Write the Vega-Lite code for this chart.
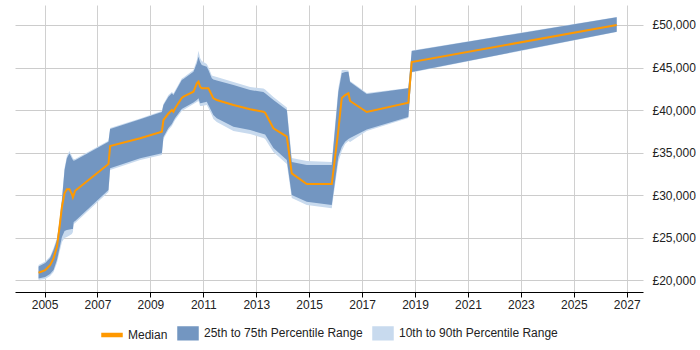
{
  "$schema": "https://vega.github.io/schema/vega-lite/v6.json",
  "width": 628,
  "height": 287,
  "padding": {"left": 15, "top": 5, "right": 0, "bottom": 0},
  "autosize": {"type": "pad"},
  "config": {
    "view": {"stroke": null},
    "font": "Liberation Sans",
    "axis": {"labelFont": "Liberation Sans", "labelFontSize": 12, "labelColor": "#222"},
    "axisY": {
      "orient": "right",
      "values": [19000, 20000, 21000, 22000, 23000, 24000, 25000, 26000, 27000, 28000, 29000, 30000, 31000, 32000, 33000, 34000, 35000, 36000, 37000, 38000, 39000, 40000, 41000, 42000, 43000, 44000, 45000, 46000, 47000, 48000, 49000, 50000, 51000, 52000],
      "labelExpr": "datum.value % 5000 === 0 ? '£' + format(datum.value, ',') : ''",
      "labelOverlap": false,
      "grid": true,
      "gridColor": {"condition": {"test": "datum.value % 5000 === 0", "value": "#cccccc"}, "value": "#e8e8e8"},
      "ticks": false,
      "domain": false,
      "labelPadding": 9,
      "title": null
    },
    "legend": {"labelFont": "Liberation Sans", "labelFontSize": 12, "labelColor": "#222", "layout": {"bottom": {"anchor": "middle"}}}
  },
  "data": {
    "values": [
      {"date": "2004-10-10", "p10": 20000, "p25": 20200, "median": 20859, "p75": 21588, "p90": 21765},
      {"date": "2005-01-10", "p10": 20118, "p25": 20353, "median": 21177, "p75": 22000, "p90": 22177},
      {"date": "2005-03-18", "p10": 20471, "p25": 20706, "median": 21765, "p75": 22588, "p90": 22765},
      {"date": "2005-05-05", "p10": 20941, "p25": 21177, "median": 22553, "p75": 23530, "p90": 23765},
      {"date": "2005-06-21", "p10": 22000, "p25": 22353, "median": 23918, "p75": 24706, "p90": 24941},
      {"date": "2005-07-27", "p10": 23294, "p25": 23765, "median": 26271, "p75": 26824, "p90": 27059},
      {"date": "2005-08-29", "p10": 24471, "p25": 25059, "median": 28624, "p75": 29412, "p90": 29647},
      {"date": "2005-10-04", "p10": 24941, "p25": 25765, "median": 30200, "p75": 32941, "p90": 33177},
      {"date": "2005-11-05", "p10": 25059, "p25": 25882, "median": 30671, "p75": 34318, "p90": 34588},
      {"date": "2005-12-11", "p10": 25235, "p25": 25941, "median": 30671, "p75": 34906, "p90": 35177},
      {"date": "2006-01-13", "p10": 25412, "p25": 26000, "median": 30118, "p75": 34318, "p90": 34588},
      {"date": "2006-01-27", "p10": 25647, "p25": 26000, "median": 29730, "p75": 34118, "p90": 34353},
      {"date": "2006-02-07", "p10": 26588, "p25": 26824, "median": 30000, "p75": 34035, "p90": 34235},
      {"date": "2006-02-27", "p10": 26706, "p25": 26941, "median": 30506, "p75": 34082, "p90": 34235},
      {"date": "2007-06-02", "p10": 30353, "p25": 30588, "median": 33647, "p75": 36271, "p90": 36388},
      {"date": "2007-06-25", "p10": 32941, "p25": 33141, "median": 35765, "p75": 37765, "p90": 37882},
      {"date": "2008-08-13", "p10": 34118, "p25": 34318, "median": 36671, "p75": 38906, "p90": 39000},
      {"date": "2009-06-08", "p10": 34706, "p25": 34906, "median": 37447, "p75": 39765, "p90": 39882},
      {"date": "2009-06-30", "p10": 36588, "p25": 36824, "median": 38824, "p75": 40588, "p90": 40706},
      {"date": "2009-09-07", "p10": 37647, "p25": 37882, "median": 39588, "p75": 41565, "p90": 41765},
      {"date": "2009-10-24", "p10": 38118, "p25": 38353, "median": 40000, "p75": 41965, "p90": 42118},
      {"date": "2009-11-15", "p10": 38471, "p25": 38706, "median": 39800, "p75": 41765, "p90": 41941},
      {"date": "2009-12-08", "p10": 38824, "p25": 39059, "median": 40200, "p75": 42118, "p90": 42294},
      {"date": "2010-03-10", "p10": 39882, "p25": 40118, "median": 41412, "p75": 43530, "p90": 43706},
      {"date": "2010-04-02", "p10": 40000, "p25": 40235, "median": 41565, "p75": 43647, "p90": 43824},
      {"date": "2010-08-18", "p10": 40706, "p25": 40882, "median": 42153, "p75": 44506, "p90": 44706},
      {"date": "2010-10-04", "p10": 40941, "p25": 41177, "median": 43141, "p75": 45494, "p90": 45882},
      {"date": "2010-10-26", "p10": 41059, "p25": 41376, "median": 43330, "p75": 46271, "p90": 46977},
      {"date": "2010-11-18", "p10": 40471, "p25": 40788, "median": 42741, "p75": 45647, "p90": 46118},
      {"date": "2010-12-11", "p10": 40471, "p25": 40824, "median": 42553, "p75": 45294, "p90": 45765},
      {"date": "2011-02-18", "p10": 40588, "p25": 40976, "median": 42553, "p75": 45094, "p90": 45412},
      {"date": "2011-03-12", "p10": 40235, "p25": 40588, "median": 42553, "p75": 44706, "p90": 45059},
      {"date": "2011-04-28", "p10": 39412, "p25": 39800, "median": 41765, "p75": 43730, "p90": 44059},
      {"date": "2011-05-20", "p10": 38941, "p25": 39412, "median": 41377, "p75": 43588, "p90": 44000},
      {"date": "2011-07-06", "p10": 38588, "p25": 39024, "median": 41177, "p75": 43471, "p90": 43882},
      {"date": "2012-02-21", "p10": 37530, "p25": 38035, "median": 40588, "p75": 42941, "p90": 43294},
      {"date": "2012-10-08", "p10": 37177, "p25": 37647, "median": 40083, "p75": 42353, "p90": 42706},
      {"date": "2013-04-09", "p10": 36706, "p25": 37177, "median": 39800, "p75": 42118, "p90": 42530},
      {"date": "2013-05-03", "p10": 36588, "p25": 37118, "median": 39683, "p75": 41965, "p90": 42412},
      {"date": "2013-08-26", "p10": 35059, "p25": 35530, "median": 37847, "p75": 41177, "p90": 41530},
      {"date": "2014-02-27", "p10": 33647, "p25": 34118, "median": 36883, "p75": 40000, "p90": 40294},
      {"date": "2014-05-06", "p10": 29647, "p25": 30000, "median": 32549, "p75": 33882, "p90": 34353},
      {"date": "2014-11-29", "p10": 28824, "p25": 29212, "median": 31294, "p75": 33530, "p90": 34000},
      {"date": "2015-11-09", "p10": 28435, "p25": 28824, "median": 31294, "p75": 33530, "p90": 33882},
      {"date": "2016-02-08", "p10": 33882, "p25": 34506, "median": 37612, "p75": 42118, "p90": 42600},
      {"date": "2016-03-26", "p10": 35177, "p25": 35647, "median": 41412, "p75": 44318, "p90": 44706},
      {"date": "2016-05-11", "p10": 36000, "p25": 36271, "median": 41765, "p75": 44471, "p90": 44706},
      {"date": "2016-06-26", "p10": 36353, "p25": 36588, "median": 41965, "p75": 44506, "p90": 44647},
      {"date": "2016-07-19", "p10": 36235, "p25": 36706, "median": 41059, "p75": 43294, "p90": 43412},
      {"date": "2017-03-06", "p10": 37530, "p25": 37706, "median": 39765, "p75": 41882, "p90": 42000},
      {"date": "2018-10-01", "p10": 39059, "p25": 39177, "median": 40859, "p75": 42553, "p90": 42588},
      {"date": "2018-11-17", "p10": 44412, "p25": 44471, "median": 45647, "p75": 46941, "p90": 47000},
      {"date": "2026-08-16", "p10": 49177, "p25": 49212, "median": 50000, "p75": 50906, "p90": 50941}
    ]
  },
  "encoding": {
    "x": {
      "field": "date",
      "type": "temporal",
      "title": null,
      "scale": {"domain": [{"year": 2003, "month": 11, "date": 20}, {"year": 2027, "month": 8, "date": 14}]},
      "axis": {
        "values": [{"year": 2005}, {"year": 2007}, {"year": 2009}, {"year": 2011}, {"year": 2013}, {"year": 2015}, {"year": 2017}, {"year": 2019}, {"year": 2021}, {"year": 2023}, {"year": 2025}, {"year": 2027}],
        "format": "%Y",
        "grid": true,
        "gridColor": "#d0d0d0",
        "domainColor": "#000",
        "tickColor": "#000",
        "tickSize": 5,
        "labelPadding": 2,
        "labelFlush": false
      }
    }
  },
  "layer": [
    {
      "mark": {"type": "area", "interpolate": "linear"},
      "encoding": {
        "y": {
          "field": "p10",
          "type": "quantitative",
          "title": null,
          "scale": {"domain": [18600, 52350], "nice": false, "zero": false}
        },
        "y2": {"field": "p90"},
        "color": {
          "datum": "10th to 90th Percentile Range",
          "type": "nominal",
          "scale": {
            "domain": ["Median", "25th to 75th Percentile Range", "10th to 90th Percentile Range"],
            "range": ["#ff9900", "#7396c1", "#c8daee"]
          },
          "legend": {
            "title": null,
            "orient": "bottom",
            "direction": "horizontal",
            "offset": 12,
            "symbolSize": 400,
            "labelOffset": 5,
            "columnPadding": 7,
            "encode": {
              "symbols": {
                "update": {
                  "shape": {"signal": "datum.value === 'Median' ? 'M-1,-0.15H1V0.15H-1Z' : 'M-1,-0.63H1V0.63H-1Z'"},
                  "fill": {"scale": "color", "field": "value"},
                  "stroke": {"value": "transparent"},
                  "opacity": {"value": 1}
                }
              }
            }
          }
        }
      }
    },
    {
      "mark": {"type": "area", "interpolate": "linear"},
      "encoding": {
        "y": {"field": "p25", "type": "quantitative", "title": null},
        "y2": {"field": "p75"},
        "color": {"datum": "25th to 75th Percentile Range", "type": "nominal"}
      }
    },
    {
      "mark": {"type": "line", "interpolate": "linear", "strokeWidth": 2},
      "encoding": {
        "y": {"field": "median", "type": "quantitative", "title": null},
        "color": {"datum": "Median", "type": "nominal"}
      }
    }
  ]
}
